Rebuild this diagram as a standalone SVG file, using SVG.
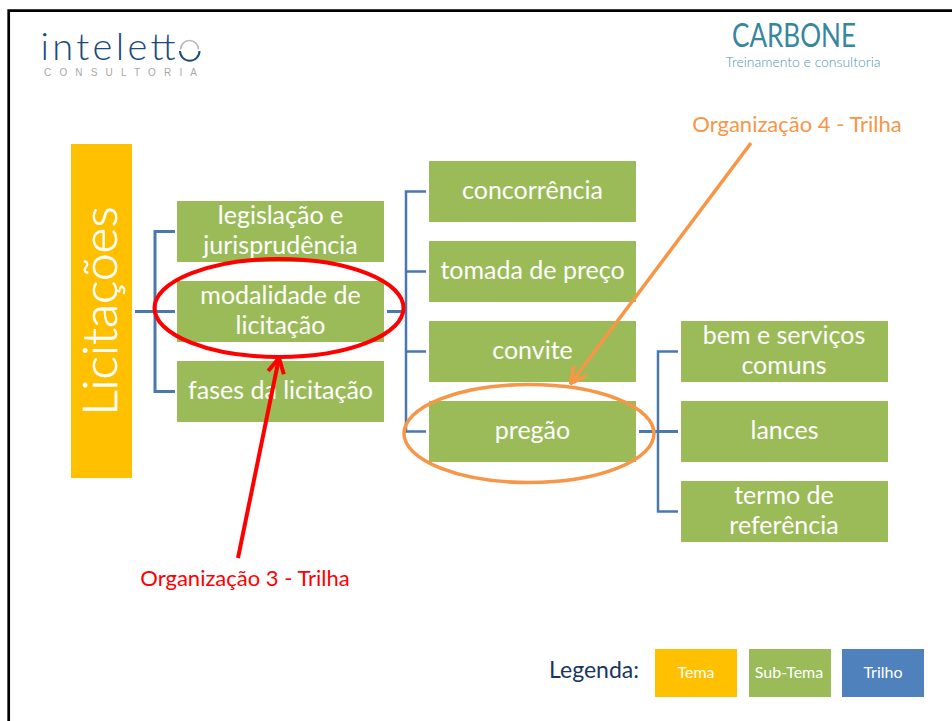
<svg xmlns="http://www.w3.org/2000/svg" width="952" height="721" viewBox="0 0 952 721">
<style>
text{font-family:Lato,"Liberation Sans",sans-serif;text-anchor:middle}
.sub{fill:#9BBB59}
.n{fill:#fff;font-size:25px}
.l{fill:#fff;font-size:16px}
.c{fill:none;stroke:#4A78AE;stroke-width:3}
.thin{fill:none;stroke:#4A78AE;stroke-width:2.500}
</style>
<defs>
<marker id="ar" viewBox="0 0 20 20" refX="18" refY="10" markerWidth="20" markerHeight="20" markerUnits="userSpaceOnUse" orient="auto"><path d="M3 2L18 10L3 18" fill="none" stroke="context-stroke" stroke-width="4"/></marker>
</defs>
<rect width="952" height="721" fill="#fff"/>
<path d="M8.700 721V10.700H952" fill="none" stroke="#000" stroke-width="2.700"/>
<g id="logo-intelletto">
<text x="108" y="60" style="font-size:38px;font-weight:300" fill="#1A4A7C" textLength="135" lengthAdjust="spacing">intelett</text>
<path d="M180.500 49.500A9 9 0 0 1 198.500 49.500" fill="none" stroke="#B5B8BC" stroke-width="1.500"/>
<path d="M180 51A9.500 9.500 0 0 0 199.500 51" fill="none" stroke="#1A4A7C" stroke-width="2"/>
<text x="120.500" y="76" style="font-size:10px;font-family:'Liberation Sans',sans-serif" fill="#A8A8A8" textLength="153">CONSULTORIA</text>
</g>
<g id="logo-carbone">
<text x="794" y="47" style="font-size:32px" fill="#36869E" textLength="124" lengthAdjust="spacingAndGlyphs">CARBONE</text>
<text x="803" y="67" style="font-size:14px;font-weight:300" fill="#4F95AB" textLength="155" lengthAdjust="spacingAndGlyphs">Treinamento e consultoria</text>
</g>
<g id="connectors">
<path class="c" d="M135 311.500H175"/>
<path class="c" d="M175 231.500H155V391.500H175"/>
<path class="c" d="M387 311.500H406"/>
<path class="thin" d="M426 191.500H406V431.500H426M406 271.500H426M406 351.500H426"/>
<path class="c" d="M639 431.500H678"/>
<path class="thin" d="M678 351.500H658V511.500H678"/>
</g>
<g id="licitacoes">
<rect x="71" y="144" width="61" height="334" fill="#FFC000"/>
<text transform="translate(117 311) rotate(-90)" style="font-size:48px;font-weight:300;stroke:#fff;stroke-width:.6" fill="#fff" textLength="209" lengthAdjust="spacingAndGlyphs">Licitações</text>
</g>
<g id="legislacao"><rect class="sub" x="177" y="201" width="207" height="61"/><text class="n" x="280.500" y="224">legislação e</text><text class="n" x="280.500" y="254">jurisprudência</text></g>
<g id="modalidade"><rect class="sub" x="177" y="281" width="207" height="61"/><text class="n" x="280.500" y="304">modalidade de</text><text class="n" x="280.500" y="334">licitação</text></g>
<g id="fases"><rect class="sub" x="177" y="361" width="207" height="61"/><text class="n" x="280.500" y="399">fases da licitação</text></g>
<g id="concorrencia"><rect class="sub" x="429" y="161" width="207" height="61"/><text class="n" x="532.500" y="199">concorrência</text></g>
<g id="tomada"><rect class="sub" x="429" y="241" width="207" height="61"/><text class="n" x="532.500" y="279">tomada de preço</text></g>
<g id="convite"><rect class="sub" x="429" y="321" width="207" height="61"/><text class="n" x="532.500" y="359">convite</text></g>
<g id="pregao"><rect class="sub" x="429" y="401" width="207" height="61"/><text class="n" x="532.500" y="439">pregão</text></g>
<g id="bem"><rect class="sub" x="681" y="321" width="207" height="61"/><text class="n" x="784" y="344">bem e serviços</text><text class="n" x="784" y="374">comuns</text></g>
<g id="lances"><rect class="sub" x="681" y="401" width="207" height="61"/><text class="n" x="784.500" y="439">lances</text></g>
<g id="termo"><rect class="sub" x="681" y="481" width="207" height="61"/><text class="n" x="784" y="504">termo de</text><text class="n" x="784" y="534">referência</text></g>
<g id="destaque-3">
<ellipse cx="279" cy="308" rx="124.500" ry="49" fill="none" stroke="#F00" stroke-width="4"/>
<path d="M238 558L279 358" fill="none" stroke="#F00" stroke-width="4" marker-end="url(#ar)"/>
<text x="245" y="586" style="font-size:22px" fill="#F00">Organização 3 - Trilha</text>
</g>
<g id="destaque-4">
<ellipse cx="529" cy="433.500" rx="125" ry="49" fill="none" stroke="#F79646" stroke-width="3.500"/>
<path d="M751 143L571 383" fill="none" stroke="#F79646" stroke-width="3.500" marker-end="url(#ar)"/>
<text x="797" y="132" style="font-size:22px" fill="#F79646">Organização 4 - Trilha</text>
</g>
<g id="legenda">
<text x="594" y="678" style="font-size:23px" fill="#17375E">Legenda:</text>
<rect x="655" y="649" width="82" height="48" fill="#FFC000"/><text class="l" x="696" y="678">Tema</text>
<rect x="749" y="649" width="82" height="48" class="sub"/><text class="l" x="789" y="678">Sub-Tema</text>
<rect x="842" y="649" width="82" height="48" fill="#4F81BD"/><text class="l" x="883" y="678">Trilho</text>
</g>
</svg>
